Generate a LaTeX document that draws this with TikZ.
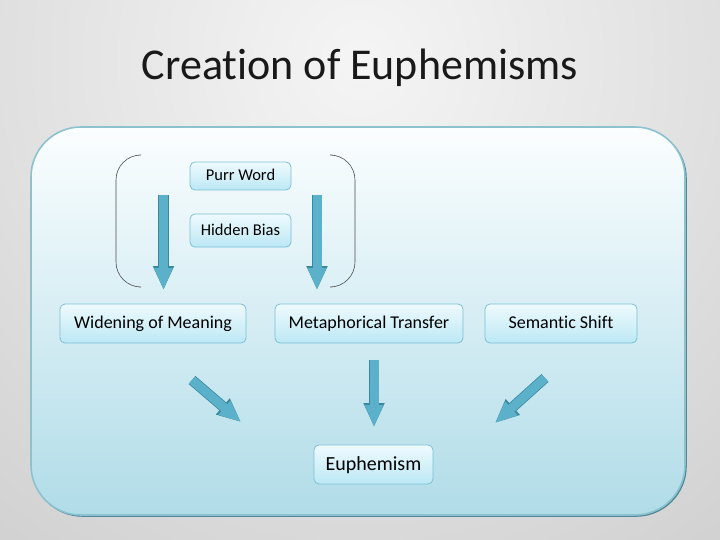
\documentclass[tikz,border=0pt]{standalone}
\usepackage{fontspec}
\setmainfont{Carlito}[Ligatures=NoCommon]
\usepackage{tikz}
\usetikzlibrary{arrows.meta,positioning,calc}
\definecolor{boxedge}{HTML}{7DBFD4}
\definecolor{boxtop}{HTML}{EEFAFD}
\definecolor{boxbot}{HTML}{BCE8F5}
\definecolor{arrfill}{HTML}{5BB0CA}
\definecolor{arredge}{HTML}{3A88A0}
\definecolor{panedge}{HTML}{8CC2CF}
\definecolor{panshadow}{HTML}{4F8795}
\definecolor{pantop}{HTML}{FBFEFF}
\definecolor{panbot}{HTML}{B0DCE8}

\begin{document}
\begin{tikzpicture}[x=1pt,y=-1pt,
  box/.style={draw=boxedge,line width=0.8pt,rounded corners=5pt,
              top color=boxtop,bottom color=boxbot,align=center,
              inner sep=0pt,text height=13pt,text depth=3pt,
              font=\fontsize{18}{20}\selectfont},
  smallbox/.style={box,text height=12pt,text depth=2.5pt,
                   font=\fontsize{16.5}{18}\selectfont},
  bigbox/.style={box,text height=14.5pt,text depth=3.5pt,
                 font=\fontsize{20}{22}\selectfont},
  arr/.style={line width=9pt,draw=arrfill,-{Triangle[width=17pt,length=22pt]},
              preaction={draw=arredge,line width=10.5pt,
                         -{Triangle[width=19.5pt,length=24pt]}}},
  brace/.style={draw=black!70,line width=0.6pt,rounded corners=25pt}]
\useasboundingbox (0,0) rectangle (720,540);
% slide background
\begin{scope}
\clip (0,0) rectangle (720,540);
\shade[inner color=black!4,outer color=black!34] (360,60) circle (1300pt);
\end{scope}
\node[font=\fontsize{44}{48}\selectfont,text=black!90] (title) at (360,68) {Creation of Euphemisms};
% panel
\draw[panshadow,line width=1.6pt,rounded corners=50pt] (32.5,128.5) rectangle (686,516);
\shade[top color=pantop,bottom color=panbot,rounded corners=50pt] (31,127) rectangle (685,515);
\draw[panedge,line width=1.6pt,rounded corners=50pt] (31,127) rectangle (685,515);
% upper group
\node[smallbox,minimum width=101pt,minimum height=28pt] (purr) at (240.5,176) {Purr Word};
\node[smallbox,minimum width=101pt,minimum height=33pt] (bias) at (240.5,230.5) {Hidden Bias};
\draw[brace] (139,155) -- (116,155) -- (116,287) -- (139,287);
\draw[brace] (332,155) -- (355,155) -- (355,287) -- (332,287);
% middle row
\node[box,minimum width=186pt,minimum height=39pt] (widen) at (153,323.5) {Widening of Meaning};
\node[box,minimum width=188pt,minimum height=39pt] (meta) at (369,323.5) {Metaphorical Transfer};
\node[box,minimum width=152pt,minimum height=39pt] (shift) at (561,323.5) {Semantic Shift};
\node[bigbox,minimum width=119pt,minimum height=39pt] (euph) at (373.5,464.5) {Euphemism};
% arrow ends
\coordinate (l1) at (163.5,195); \coordinate (l2) at (163.5,290);
\coordinate (r1) at (317,195);   \coordinate (r2) at (317,290);
\coordinate (d1) at (192,380);   \coordinate (d2) at (241,422);
\coordinate (c1) at (374,360);   \coordinate (c2) at (374,427);
\coordinate (s1) at (545,378);   \coordinate (s2) at (495,423);
\draw[arr] (l1) -- (l2);
\draw[arr] (r1) -- (r2);
\draw[arr] (d1) -- (d2);
\draw[arr] (c1) -- (c2);
\draw[arr] (s1) -- (s2);
\end{tikzpicture}
\end{document}
